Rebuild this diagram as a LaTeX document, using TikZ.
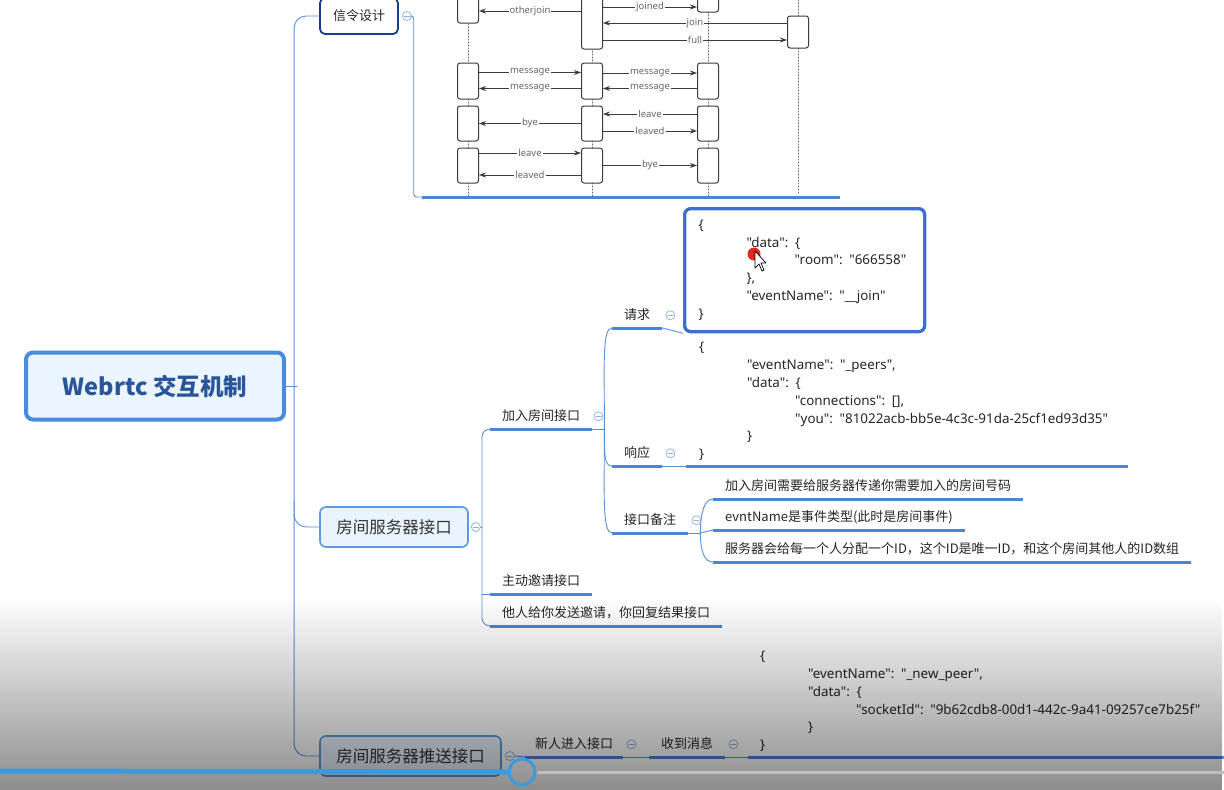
\documentclass[tikz,border=0pt]{standalone}
\usepackage{fontspec}
\setmainfont{Noto Sans CJK SC}
\newfontfamily\jsonfont{Noto Sans}
\usetikzlibrary{arrows.meta,fadings}
\tikzfading[name=vidfade,top color=transparent!100,bottom color=transparent!55]

\begin{document}
\begin{tikzpicture}[x=1pt,y=-1pt,line cap=round,line join=round,
  >={Stealth[length=7pt,width=5pt]},
  conn/.style={linec,line width=0.9pt},
  uline/.style={ulc,line width=3pt,line cap=butt},
  topic/.style={font=\fontsize{13}{16}\selectfont,text=black!85,inner xsep=12pt,
    inner ysep=5.5pt,text height=11pt,text depth=3pt,anchor=south west},
  fold/.style={circle,draw=foldc,line width=0.7pt,fill=white,minimum size=9pt,inner sep=0pt,
    path picture={\draw[foldc,line width=0.7pt]
      ([xshift=-2.5pt]path picture bounding box.center) --
      ([xshift=2.5pt]path picture bounding box.center);}},
  json/.style={font=\jsonfont\fontsize{13.4}{17.8}\selectfont,text=black!85,align=left},
  seqbox/.style={draw=seqc,line width=1pt,fill=white,rounded corners=2.5pt,
    minimum width=21pt,inner sep=0pt},
  msg/.style={seqc,line width=0.9pt,->},
  mlbl/.style={font=\jsonfont\fontsize{9.5}{10}\selectfont,text=black!60,fill=white,inner sep=1pt,midway},
  lifeline/.style={seqc!80,line width=1pt,dotted}]
  \definecolor{linec}{RGB}{91,143,214}
  \definecolor{ulc}{RGB}{74,134,212}
  \definecolor{foldc}{RGB}{140,176,224}
  \definecolor{rootfill}{RGB}{234,245,255}
  \definecolor{rootdraw}{RGB}{74,140,218}
  \definecolor{roottext}{RGB}{42,85,153}
  \definecolor{sigdraw}{RGB}{26,60,140}
  \definecolor{srvdraw}{RGB}{91,155,224}
  \definecolor{srvfill}{RGB}{234,244,254}
  \definecolor{jsonc}{RGB}{61,111,208}
  \definecolor{seqc}{RGB}{60,60,60}
  \definecolor{barblue}{RGB}{58,154,224}
  \definecolor{cursorred}{RGB}{226,38,32}

  \clip (0,0) rectangle (1224,790);
  \fill[white] (0,0) rectangle (1224,790);

  % ---- sequence diagram (signalling) ----
  % lifelines
  \draw[lifeline] (468,0) -- (468,197);
  \draw[lifeline] (592,0) -- (592,197);
  \draw[lifeline] (708,0) -- (708,197);
  \draw[lifeline] (798,0) -- (798,193);
  % activation boxes
  \node[seqbox,minimum height=38pt] (l1) at (468,4) {};
  \node[seqbox,minimum height=60pt] (m1) at (592,19) {};
  \node[seqbox,minimum height=36pt] (r1) at (708,-6) {};
  \node[seqbox,minimum height=32pt] (f1) at (798,32) {};
  \node[seqbox,minimum height=36pt] (l2) at (468,81) {};
  \node[seqbox,minimum height=36pt] (m2) at (592,81) {};
  \node[seqbox,minimum height=36pt] (r2) at (708,81) {};
  \node[seqbox,minimum height=35pt] (l3) at (468,123.5) {};
  \node[seqbox,minimum height=35pt] (m3) at (592,123.5) {};
  \node[seqbox,minimum height=35pt] (r3) at (708,123.5) {};
  \node[seqbox,minimum height=35pt] (l4) at (468,165.5) {};
  \node[seqbox,minimum height=35pt] (m4) at (592,165.5) {};
  \node[seqbox,minimum height=35pt] (r4) at (708,165.5) {};
  % messages
  \draw[msg] ([yshift=8pt]m1.west) -- ([yshift=-7pt]l1.east) node[mlbl] {otherjoin};
  \draw[msg] ([yshift=12pt]m1.east) -- ([yshift=-13pt]r1.west) node[mlbl] {joined};
  \draw[msg] ([yshift=9pt]f1.west) -- ([yshift=-4pt]m1.east) node[mlbl] {join};
  \draw[msg] ([yshift=-21pt]m1.east) -- ([yshift=-8pt]f1.west) node[mlbl] {full};
  \draw[msg] ([yshift=8.5pt]l2.east) -- ([yshift=8.5pt]m2.west) node[mlbl] {message};
  \draw[msg] ([yshift=-7.5pt]m2.west) -- ([yshift=-7.5pt]l2.east) node[mlbl] {message};
  \draw[msg] ([yshift=8pt]m2.east) -- ([yshift=8pt]r2.west) node[mlbl] {message};
  \draw[msg] ([yshift=-7.5pt]r2.west) -- ([yshift=-7.5pt]m2.east) node[mlbl] {message};
  \draw[msg] (m3.west) -- (l3.east) node[mlbl] {bye};
  \draw[msg] ([yshift=9.5pt]r3.west) -- ([yshift=9.5pt]m3.east) node[mlbl] {leave};
  \draw[msg] ([yshift=-7.5pt]m3.east) -- ([yshift=-7.5pt]r3.west) node[mlbl] {leaved};
  \draw[msg] ([yshift=12.5pt]l4.east) -- ([yshift=12.5pt]m4.west) node[mlbl] {leave};
  \draw[msg] ([yshift=-9.5pt]m4.west) -- ([yshift=-9.5pt]l4.east) node[mlbl] {leaved};
  \draw[msg] (m4.east) -- (r4.west) node[mlbl] {bye};

  % ---- main topics ----
  \node[draw=rootdraw,line width=4pt,fill=rootfill,rounded corners=7pt,minimum width=258pt,
    minimum height=67pt,font=\fontsize{23.5}{28}\selectfont\bfseries,text=roottext]
    (rt) at (155,386) {Webrtc 交互机制};
  \node[draw=sigdraw,line width=1.8pt,fill=white,rounded corners=5pt,minimum width=78pt,
    minimum height=36pt,font=\fontsize{13}{16}\selectfont,text=black!85]
    (sig) at (359,16) {信令设计};
  \node[draw=srvdraw,line width=1.6pt,fill=srvfill,rounded corners=6pt,minimum width=148pt,
    minimum height=40pt,font=\fontsize{16.5}{20}\selectfont,text=black!80]
    (srv) at (394,527) {房间服务器接口};
  \node[draw=srvdraw,line width=1.6pt,fill=srvfill,rounded corners=6pt,minimum width=181pt,
    minimum height=40pt,font=\fontsize{16.5}{20}\selectfont,text=black!80]
    (push) at (410.5,756) {房间服务器推送接口};
  \node[fold] (sigf) at ([xshift=8pt]sig.east) {};
  \node[fold] (srvf) at ([xshift=7pt]srv.east) {};
  \node[fold] (pushf) at ([xshift=8pt]push.east) {};

  % trunk
  \draw[conn] (rt.east) -- ++(11,0);
  \draw[conn,rounded corners=12pt] (sig.west) -- ++(-25,0) |- (push.west);
  \draw[conn,rounded corners=12pt] (srv.west) -- ++(-25,0) -- ++(0,-25);

  % signalling picture frame
  \coordinate (imgul) at (422,197);
  \draw[conn,rounded corners=3pt] (sigf.east) -- ++(2,0) |- (imgul);
  \draw[uline] (imgul) -- ++(418,0);

  % ---- room server interface ----
  \node[topic] (jr) at (490,429) {加入房间接口};
  \node[topic] (inv) at (490,594) {主动邀请接口};
  \node[topic] (oth) at (490,626) {他人给你发送邀请，你回复结果接口};
  \coordinate (srvfork) at (482,527);
  \draw[conn] (srvf.east) -- (srvfork);
  \draw[conn,rounded corners=8pt] (jr.south west) -| (srvfork) |- (oth.south west);
  \draw[conn] (inv.south west) -- (inv.south west -| srvfork);
  \draw[uline] (jr.south west) -- (jr.south east);
  \draw[uline] (inv.south west) -- (inv.south east);
  \draw[uline] (oth.south west) -- (oth.south east);
  \node[fold] (jrf) at ([xshift=6pt]jr.east) {};

  \node[topic] (req) at (612,328) {请求};
  \node[topic] (rsp) at (612,466) {响应};
  \node[topic] (nb) at (612,533) {接口备注};
  \coordinate (jrfork) at ([xshift=12pt]jr.south east);
  \draw[conn] (jr.south east) -- (jrfork);
  \draw[conn] (jrfork) .. controls +(0,-65) and +(-10,0) .. (req.south west);
  \draw[conn] (jrfork) .. controls +(0,25) and +(-8,0) .. (rsp.south west);
  \draw[conn] (jrfork) .. controls +(0,65) and +(-10,0) .. (nb.south west);
  \draw[uline] (req.south west) -- (req.south east);
  \draw[uline] (rsp.south west) -- (rsp.south east);
  \draw[uline] (nb.south west) -- (nb.south east);
  \node[fold] (reqf) at ([xshift=8pt]req.east) {};
  \node[fold] (rspf) at ([xshift=8pt]rsp.east) {};
  \node[fold] (nbf) at ([xshift=8pt]nb.east) {};

  % request body
  \node[json,draw=jsonc,line width=3.3pt,rounded corners=6pt,fill=white,anchor=north west,
    text width=212pt,inner xsep=14pt,inner ysep=9pt,minimum height=123pt] (jq) at (683,207)
    {\{\\
     \hspace*{48pt}"data": \{\\
     \hspace*{96pt}"room": "666558"\\
     \hspace*{48pt}\},\\
     \hspace*{48pt}"eventName": "\_\_join"\\
     \}};
  \draw[conn] (req.south east) -- (jq.south west);
  % mouse cursor
  \fill[cursorred] (754,254) circle (6.5);
  \draw[black,fill=white,line width=0.7pt] (755,251) -- ++(0,17) -- ++(4,-4) -- ++(3,7)
    -- ++(2,-1) -- ++(-3,-7) -- ++(5,0) -- cycle;

  % response body
  \node[json,anchor=south west,text width=416pt,inner xsep=13pt,inner ysep=5pt] (jr2) at (686,466)
    {\{\\
     \hspace*{48pt}"eventName": "\_peers",\\
     \hspace*{48pt}"data": \{\\
     \hspace*{96pt}"connections": [],\\
     \hspace*{96pt}"you": "81022acb-bb5e-4c3c-91da-25cf1ed93d35"\\
     \hspace*{48pt}\}\\
     \}};
  \draw[conn] (rsp.south east) -- (jr2.south west);
  \draw[uline] (jr2.south west) -- (jr2.south east);

  % notes
  \node[topic] (n1) at (713,499) {加入房间需要给服务器传递你需要加入的房间号码};
  \node[topic] (n2) at (713,530) {evntName是事件类型(此时是房间事件)};
  \node[topic] (n3) at (713,562) {服务器会给每一个人分配一个ID，这个ID是唯一ID，和这个房间其他人的ID数组};
  \coordinate (nbfork) at ([xshift=12pt]nb.south east);
  \draw[conn] (nb.south east) -- (nbfork);
  \draw[conn] (nbfork) .. controls +(0,-22) and +(-8,0) .. (n1.south west);
  \draw[conn] (nbfork) -- (n2.south west);
  \draw[conn] (nbfork) .. controls +(0,20) and +(-8,0) .. (n3.south west);
  \draw[uline] (n1.south west) -- (n1.south east);
  \draw[uline] (n2.south west) -- (n2.south east);
  \draw[uline] (n3.south west) -- (n3.south east);

  % ---- room server push ----
  \node[topic,inner xsep=10pt] (np) at (525,757) {新人进入接口};
  \node[topic] (rcv) at (649,757) {收到消息};
  \node[json,anchor=south west,text width=460pt,inner xsep=12pt,inner ysep=5pt] (jp) at (748,757)
    {\{\\
     \hspace*{48pt}"eventName": "\_new\_peer",\\
     \hspace*{48pt}"data": \{\\
     \hspace*{96pt}"socketId": "9b62cdb8-00d1-442c-9a41-09257ce7b25f"\\
     \hspace*{48pt}\}\\
     \}};
  \draw[conn] (pushf.east) -- (np.south west);
  \draw[conn] (np.south east) -- (rcv.south west);
  \draw[conn] (rcv.south east) -- (jp.south west);
  \draw[uline] (np.south west) -- (np.south east);
  \draw[uline] (rcv.south west) -- (rcv.south east);
  \draw[uline] (jp.south west) -- (jp.south east);
  \node[fold] (npf) at ([xshift=8pt]np.east) {};
  \node[fold] (rcvf) at ([xshift=8pt]rcv.east) {};

  % ---- video player overlay ----
  \fill[black,path fading=vidfade] (0,598) rectangle (1224,790);
  \node[circle,draw=barblue,line width=3pt,minimum size=26pt,inner sep=0pt] (knob) at (522,772) {};
  \draw[barblue,line width=5pt,line cap=butt] (0,771) -- (knob.west);
  \draw[black!25,line width=3pt,line cap=butt] (knob.east) -- ++(700,0);
\end{tikzpicture}
\end{document}
